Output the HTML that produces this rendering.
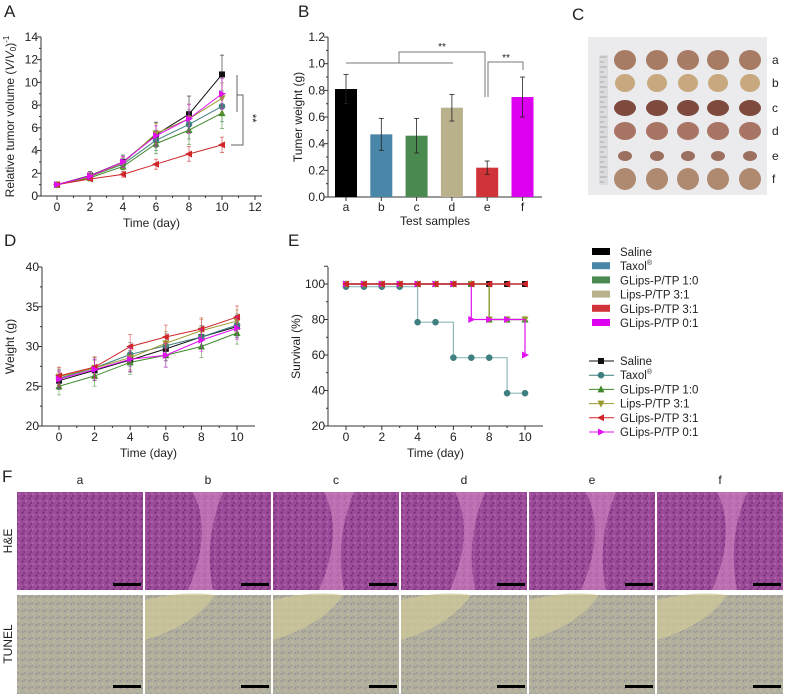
<!DOCTYPE html>
<html><head><meta charset="utf-8">
<style>
body{margin:0;background:#fff;width:787px;height:697px;overflow:hidden;font-family:"Liberation Sans",Arial,sans-serif;}
svg{position:absolute;left:0;top:0}
text{font-family:"Liberation Sans",Arial,sans-serif;fill:#222}
</style></head>
<body>
<svg id="fig" width="787" height="697" viewBox="0 0 787 697" xmlns="http://www.w3.org/2000/svg">
<defs>
<pattern id="patHE" width="7" height="7" patternUnits="userSpaceOnUse">
<rect width="7" height="7" fill="#9c4c98"/>
<circle cx="1.5" cy="1.5" r="1" fill="#6a2a78"/><circle cx="5" cy="4" r="0.9" fill="#b870b0"/><circle cx="3" cy="6" r="0.8" fill="#5e2270"/>
</pattern>
<pattern id="patTU" width="7" height="7" patternUnits="userSpaceOnUse">
<rect width="7" height="7" fill="#b2af9c"/>
<circle cx="1.5" cy="2" r="0.9" fill="#8a8aa0"/><circle cx="5" cy="5" r="0.8" fill="#c8c4a8"/><circle cx="4" cy="1" r="0.6" fill="#7a7890"/>
</pattern>
</defs>
<g id="root"></g>
</svg>
<script>
// ---------- data ----------
var days = [0,2,4,6,8,10];
var seriesNames = ["Saline","Taxol","GLips-P/TP 1:0","Lips-P/TP 3:1","GLips-P/TP 3:1","GLips-P/TP 0:1"];
var volSaline = [1,1.8,3.0,5.4,7.2,10.7];
var volTaxol  = [1,1.7,2.8,4.9,6.3,7.9];
var vol10     = [1,1.6,2.6,4.6,5.8,7.3];
var volL31    = [1,1.7,2.9,5.5,6.8,8.6];
var volG31    = [1,1.5,1.9,2.8,3.7,4.5];
var vol01     = [1,1.75,3.0,5.3,6.8,9.0];
var volErr    = [0,0.35,0.6,1.1,1.6,1.7];
var barCats   = ["a","b","c","d","e","f"];
var barVals   = [0.81,0.47,0.46,0.67,0.22,0.75];
var barErrs   = [0.11,0.12,0.13,0.10,0.05,0.15];
var wSaline = [25.7,27.0,28.3,29.7,31.2,32.5];
var wTaxol  = [26.0,27.3,29.0,30.1,31.2,32.7];
var w10     = [25.0,26.3,28.0,28.9,30.0,31.7];
var wL31    = [26.2,27.3,28.6,30.4,32.0,33.2];
var wG31    = [26.3,27.4,30.0,31.2,32.2,33.7];
var w01     = [25.9,27.1,28.4,28.9,30.8,32.3];
var wErr    = [1.1,1.3,1.5,1.5,1.4,1.4];
var survDays = [0,1,2,3,4,5,6,7,8,9,10];
var sSaline = [100,100,100,100,100,100,100,100,100,100,100];
var sTaxol  = [98.5,98.5,98.5,98.5,78.5,78.5,58.5,58.5,58.5,38.5,38.5];
var s10     = [100,100,100,100,100,100,100,100,80,80,80];
var sL31    = [100,100,100,100,100,100,100,100,80,80,80];
var sG31    = [100,100,100,100,100,100,100,100,100,100,100];
var s01     = [100,100,100,100,100,100,100,80,80,80,60];
var volTicks = [0,2,4,6,8,10,12,14];
var volXTicks = [0,2,4,6,8,10,12];
var barTicks = ["0.0","0.2","0.4","0.6","0.8","1.0","1.2"];
var wTicks = [20,25,30,35,40];
var sTicks = [20,40,60,80,100];
var colors = ["#111111","#3f7f7f","#3f8a2a","#9a9a30","#d0262a","#e010f0"];
var barColors = ["#000000","#4a86a8","#4a8a50","#b9b08c","#d03438","#dd00ee"];

var NS="http://www.w3.org/2000/svg";
var root=document.getElementById('root');
function el(tag,attrs,parent,txt){var e=document.createElementNS(NS,tag);for(var k in attrs)e.setAttribute(k,attrs[k]);if(txt!==undefined)e.textContent=txt;(parent||root).appendChild(e);return e;}
function grp(name){var g=el('g',{});


return g;}

function panelLabel(t,x,y){var e=el('text',{x:x,y:y,'font-size':17},root,t);

}

function marker(g,type,x,y,c){
  var s=3;
  if(type==0) el('rect',{x:x-s,y:y-s,width:2*s,height:2*s,fill:c},g);
  else if(type==1) el('circle',{cx:x,cy:y,r:s+0.3,fill:c},g);
  else if(type==2) el('polygon',{points:(x)+','+(y-s-1)+' '+(x-s-0.5)+','+(y+s)+' '+(x+s+0.5)+','+(y+s),fill:c},g);
  else if(type==3) el('polygon',{points:(x)+','+(y+s+1)+' '+(x-s-0.5)+','+(y-s)+' '+(x+s+0.5)+','+(y-s),fill:c},g);
  else if(type==4) el('polygon',{points:(x-s-1)+','+(y)+' '+(x+s)+','+(y-s-0.5)+' '+(x+s)+','+(y+s+0.5),fill:c},g);
  else el('polygon',{points:(x+s+1)+','+(y)+' '+(x-s)+','+(y-s-0.5)+' '+(x-s)+','+(y+s+0.5),fill:c},g);
}

function axes(g,x0,x1,y0,y1,xt,xs,yt,ys,xl,yl,ylx){
  el('line',{x1:x0,y1:y0,x2:x0,y2:y1,stroke:'#333','stroke-width':1},g);
  el('line',{x1:x0,y1:y0,x2:x1,y2:y0,stroke:'#333','stroke-width':1},g);
  xt.forEach(function(v,i){var x=xs(v);el('line',{x1:x,y1:y0,x2:x,y2:y0+4,stroke:'#333'},g);
    var t=el('text',{x:x,y:y0+15,'font-size':12,'text-anchor':'middle'},g,v);
    
    
    if(i<xt.length-1){var xm=(x+xs(xt[i+1]))/2;el('line',{x1:xm,y1:y0,x2:xm,y2:y0+2,stroke:'#333'},g);}
  });
  yt.forEach(function(v,i){var y=ys(parseFloat(v));el('line',{x1:x0-4,y1:y,x2:x0,y2:y,stroke:'#333'},g);
    var t=el('text',{x:x0-3,y:y+4,'font-size':12,'text-anchor':'end'},g,v);
    
    
    if(i<yt.length-1){var ym=(y+ys(parseFloat(yt[i+1])))/2;el('line',{x1:x0-2,y1:ym,x2:x0,y2:ym,stroke:'#333'},g);}
  });
  var xa=el('text',{x:(x0+x1)/2,y:y0+31,'font-size':12,'text-anchor':'middle'},g,xl);
  
  
  var ya=el('text',{x:0,y:0,'font-size':12,'text-anchor':'middle',transform:'translate('+ylx+','+((y0+y1)/2)+') rotate(-90)'},g,'');
  ya.innerHTML=yl;
  
  
}

// ---------- Panel A ----------
panelLabel('A',4,17);
(function(){
  var g=grp('tumor-volume-chart');
  var xs=function(v){return 57+v*16.5;}, ys=function(v){return 196-v*11.36;};
  axes(g,41,262,196,37,volXTicks,xs,volTicks.map(String),ys,'Time (day)','Relative tumor volume (<tspan font-style="italic">V</tspan>/<tspan font-style="italic">V</tspan><tspan font-size="8" dy="2">0</tspan><tspan dy="-2">)</tspan><tspan font-size="8" dy="-5">-1</tspan>',14);
  var all=[volSaline,volTaxol,vol10,volL31,volG31,vol01];
  all.forEach(function(arr,si){
    var sg=grp('volume-series-'+si);g.appendChild(sg);
    var pts=arr.map(function(v,i){return xs(days[i])+','+ys(v);}).join(' ');
    arr.forEach(function(v,i){var x=xs(days[i]),e=volErr[i]*(si==4?0.4:si==0?1:0.8);
      el('line',{x1:x,y1:ys(v-e),x2:x,y2:ys(v+e),stroke:colors[si],'stroke-width':0.8,opacity:0.7},sg);
      el('line',{x1:x-2,y1:ys(v+e),x2:x+2,y2:ys(v+e),stroke:colors[si],'stroke-width':0.8,opacity:0.7},sg);
      el('line',{x1:x-2,y1:ys(v-e),x2:x+2,y2:ys(v-e),stroke:colors[si],'stroke-width':0.8,opacity:0.7},sg);});
    el('polyline',{points:pts,fill:'none',stroke:colors[si],'stroke-width':1},sg);
    arr.forEach(function(v,i){marker(sg,si,xs(days[i]),ys(v),colors[si]);});
  });
  var b=grp('significance-bracket-a');g.appendChild(b);
  el('line',{x1:237,y1:75,x2:237,y2:112,stroke:'#666'},b);
  el('polyline',{points:'237,95 243,95 243,145 231,145',fill:'none',stroke:'#666'},b);
  el('text',{x:0,y:0,'font-size':11,transform:'translate(249,114) rotate(90)'},b,'**');
})();

// ---------- Panel B ----------
panelLabel('B',298,17);
(function(){
  var g=grp('tumor-weight-chart');
  var xs=function(i){return 346+i*35.3;}, ys=function(v){return 197-v*133.3;};
  el('line',{x1:328,y1:197,x2:328,y2:37,stroke:'#333'},g);
  el('line',{x1:328,y1:197,x2:542,y2:197,stroke:'#333'},g);
  barTicks.forEach(function(v,i){var y=ys(parseFloat(v));el('line',{x1:324,y1:y,x2:328,y2:y,stroke:'#333'},g);
    var t=el('text',{x:325,y:y+4,'font-size':12,'text-anchor':'end'},g,v);
    
    
    if(i<barTicks.length-1){el('line',{x1:326,y1:y-13.3,x2:328,y2:y-13.3,stroke:'#333'},g);}});
  barCats.forEach(function(c,i){var x=xs(i),v=barVals[i],e=barErrs[i];
    var r=el('rect',{x:x-11,y:ys(v),width:22,height:ys(0)-ys(v),fill:barColors[i]},g);
    
    
    el('line',{x1:x,y1:ys(v-e),x2:x,y2:ys(v+e),stroke:'#222','stroke-width':0.8},g);
    el('line',{x1:x-2.5,y1:ys(v-e),x2:x+2.5,y2:ys(v-e),stroke:'#222','stroke-width':0.8},g);
    el('line',{x1:x-2.5,y1:ys(v+e),x2:x+2.5,y2:ys(v+e),stroke:'#222','stroke-width':0.8},g);
    el('line',{x1:x,y1:197,x2:x,y2:201,stroke:'#333'},g);
    var t=el('text',{x:x,y:211,'font-size':12,'text-anchor':'middle'},g,c);
    
    });
  var xt=el('text',{x:435,y:225,'font-size':12,'text-anchor':'middle'},g,'Test samples');
  
  
  var yt=el('text',{x:0,y:0,'font-size':12,'text-anchor':'middle',transform:'translate(302,117) rotate(-90)'},g,'Tumer weight (g)');
  
  
  var b=grp('significance-brackets-b');g.appendChild(b);
  el('line',{x1:346,y1:63,x2:453,y2:63,stroke:'#777'},b);
  el('polyline',{points:'399,63 399,52 485,52 485,97',fill:'none',stroke:'#777'},b);
  el('text',{x:442,y:50,'font-size':10,'text-anchor':'middle'},b,'**');
  el('polyline',{points:'488,97 488,62 523,62 523,70',fill:'none',stroke:'#777'},b);
  el('text',{x:506,y:61,'font-size':10,'text-anchor':'middle'},b,'**');
})();

// ---------- Panel C (photo) ----------
panelLabel('C',572,20);
(function(){
  var g=grp('tumor-photo');
  el('rect',{x:588,y:37,width:179,height:158,fill:'#ebebed'},g);
  el('rect',{x:599,y:55,width:9,height:130,fill:'#dcdcde'},g);
  for(var k=0;k<26;k++){el('line',{x1:600,y1:57+k*5,x2:(k%2?604:607),y2:57+k*5,stroke:'#888','stroke-width':0.6},g);}
  var cx=[625,657,688,718,750], cy=[60,83,108,131,156,179];
  var sizes=[[11,10],[10,9],[11,8],[11,9],[7,5],[11,11]];
  var tones=['#a87c64','#c8a87e','#7e4a3e','#a87464','#9c7060','#b08a70'];
  cy.forEach(function(y,r){cx.forEach(function(x,c){
    var e=el('ellipse',{cx:x,cy:y,rx:sizes[r][0],ry:sizes[r][1],fill:tones[r]},g);
    
    
  });
  var t=el('text',{x:772,y:y+4,'font-size':12},g,barCats[r]);
  
  });
})();

// ---------- Legends ----------
(function(){
  var g=grp('bar-legend');
  seriesNames.forEach(function(n,i){var y=252+i*14.2;
    el('rect',{x:592,y:y-4,width:18,height:7,fill:barColors[i]},g);
    var t=el('text',{x:620,y:y+4,'font-size':11.5},g,'');
    t.innerHTML=i==1?'Taxol<tspan font-size="7" dy="-5">®</tspan>':n;
    
    });
  var g2=grp('line-legend');
  seriesNames.forEach(function(n,i){var y=361+i*14.2;
    el('line',{x1:589,y1:y,x2:614,y2:y,stroke:colors[i],'stroke-width':1},g2);
    marker(g2,i,601,y,colors[i]);
    var t=el('text',{x:620,y:y+4,'font-size':11.5},g2,'');
    t.innerHTML=i==1?'Taxol<tspan font-size="7" dy="-5">®</tspan>':n;
    
    });
})();

// ---------- Panel D ----------
panelLabel('D',4,246);
(function(){
  var g=grp('body-weight-chart');
  var xs=function(v){return 59+v*17.8;}, ys=function(v){return 426-(v-20)*7.95;};
  axes(g,42,255,426,267,days,xs,wTicks.map(String),ys,'Time (day)','Weight (g)',14);
  var all=[wSaline,wTaxol,w10,wL31,wG31,w01];
  all.forEach(function(arr,si){
    var sg=grp('weight-series-'+si);g.appendChild(sg);
    arr.forEach(function(v,i){var x=xs(days[i]),e=wErr[i];
      el('line',{x1:x,y1:ys(v-e),x2:x,y2:ys(v+e),stroke:colors[si],'stroke-width':0.8,opacity:0.6},sg);
      el('line',{x1:x-2,y1:ys(v+e),x2:x+2,y2:ys(v+e),stroke:colors[si],'stroke-width':0.8,opacity:0.6},sg);
      el('line',{x1:x-2,y1:ys(v-e),x2:x+2,y2:ys(v-e),stroke:colors[si],'stroke-width':0.8,opacity:0.6},sg);});
    el('polyline',{points:arr.map(function(v,i){return xs(days[i])+','+ys(v);}).join(' '),fill:'none',stroke:colors[si],'stroke-width':1},sg);
    arr.forEach(function(v,i){marker(sg,si,xs(days[i]),ys(v),colors[si]);});
  });
})();

// ---------- Panel E ----------
panelLabel('E',288,246);
(function(){
  var g=grp('survival-chart');
  var xs=function(v){return 346+v*17.9;}, ys=function(v){return 426-(v-20)*1.775;};
  axes(g,328,543,426,267,days,xs,sTicks.map(String),ys,'Time (day)','Survival (%)',300);
  el('line',{x1:324,y1:ys(110),x2:328,y2:ys(110),stroke:'#333'},g);
  var all=[sSaline,sTaxol,s10,sL31,sG31,s01];
  var lineCols=["#111","#8fbaba","#3f8a2a","#9a9a30","#d0262a","#e010f0"];
  var order=[0,1,2,3,5,4];
  order.forEach(function(si){var arr=all[si];
    var sg=grp('survival-series-'+si);g.appendChild(sg);
    var pts=[];arr.forEach(function(v,i){if(i>0)pts.push(xs(survDays[i])+','+ys(arr[i-1]));pts.push(xs(survDays[i])+','+ys(v));});
    el('polyline',{points:pts.join(' '),fill:'none',stroke:lineCols[si],'stroke-width':1.2},sg);
    arr.forEach(function(v,i){marker(sg,si,xs(survDays[i]),ys(v),colors[si]);});
  });
})();

// ---------- Panel F ----------
panelLabel('F',2,482);
(function(){
  var g=grp('histology-panel');
  var lab1=el('text',{x:0,y:0,'font-size':12,'text-anchor':'middle',transform:'translate(12,541) rotate(-90)'},g,'H&E');
  
  
  var lab2=el('text',{x:0,y:0,'font-size':12,'text-anchor':'middle',transform:'translate(12,644) rotate(-90)'},g,'TUNEL');
  
  
  barCats.forEach(function(c,i){var x=17+i*128;
    var t=el('text',{x:x+63,y:484,'font-size':12,'text-anchor':'middle'},g,c);
    
    
    var h=el('rect',{x:x,y:492,width:126,height:98,fill:'url(#patHE)'},g);
    
    
    if(i>0){el('path',{d:'M'+(x+45+i*3)+',492 q20,40 -5,98 l25,0 q-10,-50 10,-98 z',fill:'#d890c8',opacity:0.55},g);}
    el('rect',{x:x+96,y:583,width:28,height:3,fill:'#000'},g);
    var tu=el('rect',{x:x,y:595,width:126,height:99,fill:'url(#patTU)'},g);
    
    
    if(i>0){el('path',{d:'M'+(x)+',600 q40,-10 70,-5 q-20,30 -70,45 z',fill:'#d2ca9a',opacity:0.7},g);}
    el('rect',{x:x+96,y:685,width:28,height:3,fill:'#000'},g);
  });
})();
</script>
</body></html>
